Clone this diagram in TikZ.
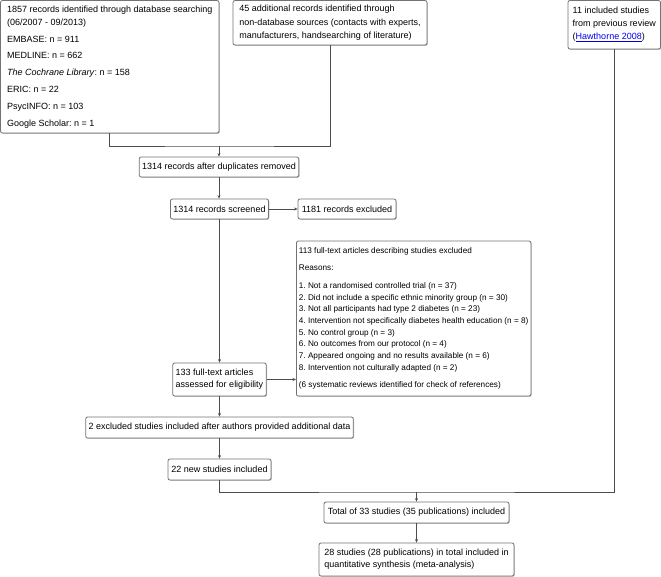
\documentclass[tikz,border=0pt]{standalone}
\usepackage{fontspec}
\setmainfont{Liberation Sans}
\usetikzlibrary{arrows.meta,shadows}
\definecolor{boxline}{gray}{0.45}
\definecolor{connline}{gray}{0.3}
\definecolor{linkblue}{rgb}{0,0,0.93}
\frenchspacing
\begin{document}
\begin{tikzpicture}[x=1bp,y=-1bp,
  every node/.style={font=\fontsize{9bp}{11.7bp}\selectfont},
  box/.style={draw=boxline, line width=0.8bp, rounded corners=2bp, fill=white,
    inner xsep=3bp, inner ysep=0pt, align=left,
    drop shadow={shadow xshift=0.8bp,shadow yshift=-0.8bp,fill=black,opacity=0.25}},
  conn/.style={draw=connline, line width=0.7bp},
  arr/.style={conn, -{Stealth[length=3.5bp,width=3bp]}},
]
\useasboundingbox (0,0) rectangle (661,577);

\node[box, minimum width=218.5bp, minimum height=132.5bp, font=\fontsize{9bp}{13.3bp}\selectfont] (b1) at (109.75,66.75)
 {1857 records identified through database searching\\
  (06/2007 - 09/2013)\\[3.5bp]
  EMBASE: n = 911\\[3.5bp]
  MEDLINE: n = 662\\[3.5bp]
  \textit{The Cochrane Library}: n = 158\\[3.5bp]
  ERIC: n = 22\\[3.5bp]
  PsycINFO: n = 103\\[3.5bp]
  Google Scholar: n = 1};

\node[box, minimum width=194bp, minimum height=44.5bp, font=\fontsize{9bp}{13.2bp}\selectfont] (b2) at (330,22.75)
 {45 additional records identified through\\
  non-database sources (contacts with experts,\\
  manufacturers, handsearching of literature)};

\node[box, minimum width=92.5bp, minimum height=48.5bp, font=\fontsize{9bp}{13bp}\selectfont] (b3) at (614.25,24.75)
 {11 included studies\\
  from previous review\\
  (\textcolor{linkblue}{\underline{Hawthorne 2008}})};

\node[box, minimum width=158bp, minimum height=20bp] (dup) at (219,167)
 {1314 records after duplicates removed};

\node[box, minimum width=97bp, minimum height=20bp] (screened) at (219.5,209)
 {1314 records screened};

\node[box, minimum width=98bp, minimum height=20bp] (excluded) at (347,209)
 {1181 records excluded};

\node[box, anchor=west, inner xsep=2.5bp, minimum width=228bp, minimum height=155bp,
      font=\fontsize{8.2bp}{11.7bp}\selectfont] (excl113) at (296,318.5)
 {113 full-text articles describing studies excluded\\[5.8bp]
  Reasons:\\[5.8bp]
  1. Not a randomised controlled trial (n = 37)\\
  2. Did not include a specific ethnic minority group (n = 30)\\
  3. Not all participants had type 2 diabetes (n = 23)\\
  4. Intervention not specifically diabetes health education (n = 8)\\
  5. No control group (n = 3)\\
  6. No outcomes from our protocol (n = 4)\\
  7. Appeared ongoing and no results available (n = 6)\\
  8. Intervention not culturally adapted (n = 2)\\[5.8bp]
  (6 systematic reviews identified for check of references)};

\node[box, minimum width=93bp, minimum height=33bp] (full133) at (219.5,379.5)
 {133 full-text articles\\
  assessed for eligibility};

\node[box, minimum width=267bp, minimum height=21bp] (two) at (219.5,427.5)
 {2 excluded studies included after authors provided additional data};

\node[box, minimum width=103bp, minimum height=21bp] (new22) at (219.5,469.5)
 {22 new studies included};

\node[box, minimum width=185bp, minimum height=21bp] (total) at (416.5,512.5)
 {Total of 33 studies (35 publications) included};

\node[box, minimum width=195bp, minimum height=33bp] (final) at (416.5,559.5)
 {28 studies (28 publications) in total included in\\
  quantitative synthesis (meta-analysis)};

\coordinate (j1) at (219,146);
\coordinate (j2) at (416.5,492);

\draw[conn] (b1.south) |- (j1) -| (b2.south);
\draw[arr] (j1) -- (dup.north);
\draw[arr] (dup.south) -- (dup.south |- screened.north);
\draw[arr] (screened.east) -- (excluded.west);
\draw[arr] (screened.south) -- (full133.north);
\draw[arr] (full133.east) -- (full133.east -| excl113.west);
\draw[arr] (full133.south) -- (two.north);
\draw[arr] (two.south) -- (new22.north);
\draw[conn] (new22.south) |- (j2) -| (b3.south);
\draw[arr] (j2) -- (total.north);
\draw[arr] (total.south) -- (final.north);
\end{tikzpicture}
\end{document}
